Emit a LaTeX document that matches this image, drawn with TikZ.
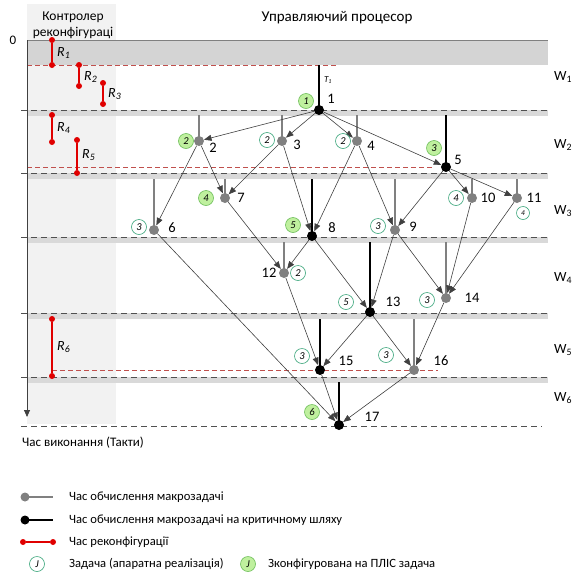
\documentclass[tikz,border=0pt]{standalone}
\usepackage{fontspec}
\setmainfont{Carlito}
\usetikzlibrary{arrows.meta}
\definecolor{colbg}{HTML}{F2F2F2}
\definecolor{bandcol}{HTML}{D9D9D9}
\definecolor{topband}{HTML}{D4D4D4}
\definecolor{dashcol}{HTML}{505050}
\definecolor{taskgray}{HTML}{808080}
\definecolor{edgecol}{HTML}{404040}
\definecolor{hwgreen}{HTML}{3AA57A}
\definecolor{cfggreen}{HTML}{BFF09E}
\definecolor{cfgborder}{HTML}{6DBE5A}
\definecolor{rcol}{HTML}{E00000}
\definecolor{rdcol}{HTML}{C0504D}
\tikzset{
 gnode/.style={circle,fill=taskgray,inner sep=0,minimum size=10pt},
 bnode/.style={circle,fill=black,inner sep=0,minimum size=10pt},
 edge/.style={draw=edgecol,line width=0.6pt,-{Triangle[length=7.5pt,width=6pt]}},
 gbar/.style={draw=taskgray,line width=2.2pt},
 bbar/.style={draw=black,line width=2.2pt},
 hw/.style={circle,draw=hwgreen,fill=white,line width=0.6pt,inner sep=0,minimum size=15pt,font=\fontsize{10.5}{10.5}\selectfont\itshape},
 cfg/.style={hw,fill=cfggreen,draw=cfgborder},
 num/.style={font=\fontsize{14.5}{14.5}\selectfont,inner sep=0},
 wl/.style={font=\fontsize{14}{14}\selectfont,inner sep=0},
 lvl/.style={draw=dashcol,line width=0.9pt,dash pattern=on 6pt off 4pt},
 rdash/.style={draw=rdcol,line width=0.7pt,dash pattern=on 5pt off 3pt},
 rbar/.style={draw=rcol,line width=1.8pt},
 rdot/.style={circle,fill=rcol,inner sep=0,minimum size=6pt},
 rlab/.style={font=\fontsize{14}{14}\selectfont\itshape,inner sep=0},
 txt/.style={font=\fontsize{12.6}{14}\selectfont,inner sep=0},
}
\begin{document}
\begin{tikzpicture}[x=1pt,y=-1pt]
\useasboundingbox (0,0) rectangle (575,573);
% background column
\fill[colbg] (27,4) rectangle (116,424);
% bands
\fill[topband] (27,40) rectangle (548,65);
\draw[taskgray,line width=0.8pt] (27,40) -- (548,40);
\foreach \y in {110,173,237,313,377}{
  \fill[bandcol] (27,\y) rectangle (548,\y+6);
  \draw[lvl] (21,\y) -- (548,\y);
}
\draw[lvl] (21,426) -- (542,426);
% red dashed
\draw[rdash] (27,65) -- (337,65);
\draw[rdash] (27,167) -- (433,167);
\draw[rdash] (52,370) -- (438,370);
% axis
\coordinate (ax0) at (27,40);
\coordinate (ax1) at (27,417);
\draw[edgecol,line width=0.8pt,-{Triangle[length=7pt,width=6pt]}] (ax0) -- (ax1);
\node[txt,font=\fontsize{13}{13}\selectfont] (zero) at (13,40) {0};
\node[txt,align=center,font=\fontsize{13.5}{16}\selectfont] (ctl) at (73,25) {Контролер\\реконфігураці};
\node[txt,font=\fontsize{15}{15}\selectfont] (proc) at (337,18) {Управляючий процесор};
\node[txt,anchor=west,font=\fontsize{13}{13}\selectfont] (xlab) at (22,443) {Час виконання (Такти)};
% reconfiguration bars
\foreach \n/\x/\ya/\yb/\ly in {1/52/40/65/53, 2/79/65/86/77, 3/103/83/104/94, 4/52/115/142/128, 5/77/140/173/155, 6/52/319/376/347}{
  \node[rdot] (r\n a) at (\x,\ya) {};
  \node[rdot] (r\n b) at (\x,\yb) {};
  \draw[rbar] (r\n a) -- (r\n b);
  \node[rlab,anchor=west] (rl\n) at (\x+5,\ly) {R\textsubscript{\n}};
}
% W labels
\node[wl] (w1) at (563,77) {W\textsubscript{1}};
\node[wl] (w2) at (563,145) {W\textsubscript{2}};
\node[wl] (w3) at (563,211) {W\textsubscript{3}};
\node[wl] (w4) at (563,278) {W\textsubscript{4}};
\node[wl] (w5) at (563,350) {W\textsubscript{5}};
\node[wl] (w6) at (563,398) {W\textsubscript{6}};
% task nodes
\node[bnode] (n1) at (319,110) {};
\node[gnode] (n2) at (199,141) {};
\node[gnode] (n3) at (282,141) {};
\node[gnode] (n4) at (357,141) {};
\node[bnode] (n5) at (446,167) {};
\node[gnode] (n6) at (154,230) {};
\node[gnode] (n7) at (225,198) {};
\node[bnode] (n8) at (312,236) {};
\node[gnode] (n9) at (395,230) {};
\node[gnode] (n10) at (472,198) {};
\node[gnode] (n11) at (517,198) {};
\node[gnode] (n12) at (284,273) {};
\node[bnode] (n13) at (370,312) {};
\node[gnode] (n14) at (446,298) {};
\node[bnode] (n15) at (320,370) {};
\node[gnode] (n16) at (414,370) {};
\node[bnode] (n17) at (339,425) {};
% bars
\draw[bbar] (n1.center) -- ++(0,-45);
\draw[gbar] (n2.center) -- ++(0,-26);
\draw[gbar] (n3.center) -- ++(0,-26);
\draw[gbar] (n4.center) -- ++(0,-26);
\draw[bbar] (n5.center) -- ++(0,-52);
\draw[gbar] (n6.center) -- ++(0,-51);
\draw[gbar] (n7.center) -- ++(0,-19);
\draw[bbar] (n8.center) -- ++(0,-57);
\draw[gbar] (n9.center) -- ++(0,-51);
\draw[gbar] (n10.center) -- ++(0,-19);
\draw[gbar] (n11.center) -- ++(0,-19);
\draw[gbar] (n12.center) -- ++(0,-31);
\draw[bbar] (n13.center) -- ++(0,-70);
\draw[gbar] (n14.center) -- ++(0,-56);
\draw[bbar] (n15.center) -- ++(0,-51);
\draw[gbar] (n16.center) -- ++(0,-51);
\draw[bbar] (n17.center) -- ++(0,-43);
\node[font=\fontsize{9}{9}\selectfont\itshape,inner sep=0] (t1) at (328,80) {T\textsubscript{1}};
% edges
\foreach \a/\b in {1/2,1/3,1/4,1/5,2/6,2/7,3/7,3/8,4/8,4/9,5/9,5/10,5/11,6/17,7/12,8/12,8/13,9/13,9/14,10/14,11/14,12/15,13/15,13/16,14/16,15/17,16/17}{
  \draw[edge] (n\a) -- (n\b);
}
% number labels
\node[num] (l1) at (331,99) {1};
\node[num] (l2) at (213,148) {2};
\node[num] (l3) at (297,145) {3};
\node[num] (l4) at (371,146) {4};
\node[num] (l5) at (458,160) {5};
\node[num] (l6) at (172,228) {6};
\node[num] (l7) at (241,198) {7};
\node[num] (l8) at (332,228) {8};
\node[num] (l9) at (413,227) {9};
\node[num] (l10) at (488,198) {10};
\node[num] (l11) at (534,198) {11};
\node[num] (l12) at (269,273) {12};
\node[num] (l13) at (393,302) {13};
\node[num] (l14) at (472,298) {14};
\node[num] (l15) at (346,361) {15};
\node[num] (l16) at (441,361) {16};
\node[num] (l17) at (372,417) {17};
% circles
\node[cfg] (c1) at (306,101) {1};
\node[cfg] (c2) at (186,141) {2};
\node[hw] (c3) at (267,140) {2};
\node[hw] (c4) at (343,141) {2};
\node[cfg] (c5) at (434,148) {3};
\node[cfg] (c7) at (206,198) {4};
\node[hw] (c6) at (139,227) {3};
\node[cfg] (c8) at (293,225) {5};
\node[hw] (c10) at (456,198) {4};
\node[hw,minimum size=13pt,font=\fontsize{7.5}{7.5}\selectfont\itshape] (c11) at (523,213) {4};
\node[hw] (c9) at (378,226) {3};
\node[hw] (c12) at (298,273) {2};
\node[hw] (c13) at (346,302) {5};
\node[hw] (c14) at (427,300) {3};
\node[hw] (c15) at (302,356) {3};
\node[hw] (c16) at (386,355) {3};
\node[cfg] (c17) at (312,412) {6};
% legend
\node[gnode,minimum size=9pt] (lg1) at (25,497) {};
\coordinate (lg1e) at (53,497);
\draw[gbar] (lg1.center) -- (lg1e);
\node[txt,anchor=west] (lt1) at (69,497) {Час обчислення макрозадачі};
\node[bnode,minimum size=9pt] (lg2) at (25,520) {};
\coordinate (lg2e) at (53,520);
\draw[bbar] (lg2.center) -- (lg2e);
\node[txt,anchor=west] (lt2) at (69,520) {Час обчислення макрозадачі на критичному шляху};
\node[rdot] (lg3a) at (23,542) {};
\node[rdot] (lg3b) at (53,542) {};
\draw[rbar] (lg3a) -- (lg3b);
\node[txt,anchor=west] (lt3) at (69,542) {Час реконфігурації};
\node[hw] (lg4) at (37,564) {J};
\node[txt,anchor=west] (lt4) at (69,564) {Задача (апаратна реалізація)};
\node[cfg] (lg5) at (248,564) {J};
\node[txt,anchor=west] (lt5) at (268,564) {Зконфігурована на ПЛІС задача};
\end{tikzpicture}
\end{document}
